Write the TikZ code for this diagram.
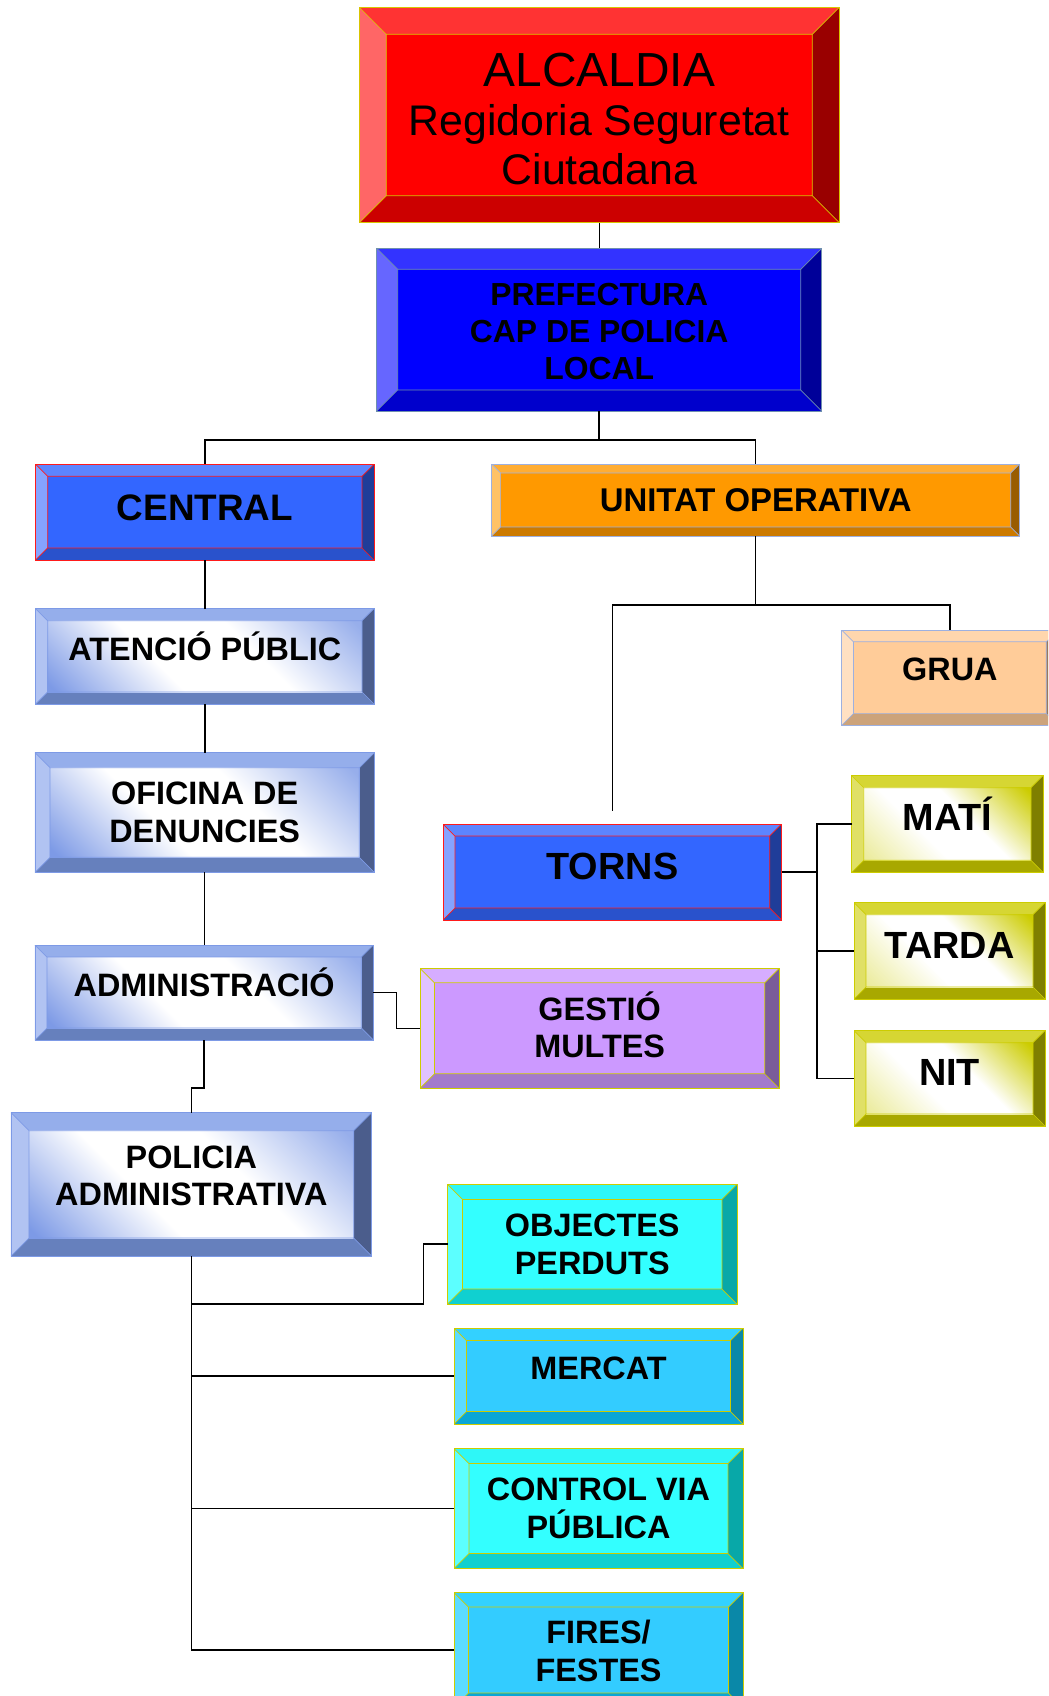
\documentclass[tikz,border=0pt]{standalone}
\usepackage{fontspec}
\setmainfont{Liberation Sans}
\usetikzlibrary{calc}

\definecolor{alcF}{HTML}{FF0000}\definecolor{alcT}{HTML}{FF3333}\definecolor{alcL}{HTML}{FF6666}\definecolor{alcB}{HTML}{CC0000}\definecolor{alcR}{HTML}{990000}\definecolor{alcD}{HTML}{D8C400}
\definecolor{preF}{HTML}{0000FF}\definecolor{preT}{HTML}{3333FF}\definecolor{preL}{HTML}{6666FF}\definecolor{preB}{HTML}{0000CC}\definecolor{preR}{HTML}{000099}\definecolor{preD}{HTML}{6F8FAF}
\definecolor{cenF}{HTML}{3366FF}\definecolor{cenT}{HTML}{5C85FF}\definecolor{cenL}{HTML}{85A3FF}\definecolor{cenB}{HTML}{2952CC}\definecolor{cenR}{HTML}{1F3D99}\definecolor{cenD}{HTML}{FF1A1A}
\definecolor{uniF}{HTML}{FF9900}\definecolor{uniT}{HTML}{FFAD33}\definecolor{uniL}{HTML}{FFC266}\definecolor{uniB}{HTML}{CC7A00}\definecolor{uniR}{HTML}{995C00}\definecolor{uniD}{HTML}{9DB0E0}
\definecolor{gruF}{HTML}{FFCC99}\definecolor{gruT}{HTML}{FFD6AD}\definecolor{gruL}{HTML}{FFE0C2}\definecolor{gruB}{HTML}{CCA37A}\definecolor{gruR}{HTML}{997A5C}\definecolor{gruD}{HTML}{9DB0E0}
\definecolor{lbF}{HTML}{7D9AE6}\definecolor{lbT}{HTML}{95AEEB}\definecolor{lbL}{HTML}{B1C3F2}\definecolor{lbB}{HTML}{6680BD}\definecolor{lbR}{HTML}{4B5D8C}\definecolor{lbD}{HTML}{7D9AE6}
\definecolor{olF}{HTML}{CCCC00}\definecolor{olT}{HTML}{D6D633}\definecolor{olL}{HTML}{E0E066}\definecolor{olB}{HTML}{A8A800}\definecolor{olR}{HTML}{7F7F00}\definecolor{olD}{HTML}{CCCC00}
\definecolor{gesF}{HTML}{CC99FF}\definecolor{gesT}{HTML}{D6ADFF}\definecolor{gesL}{HTML}{E0C2FF}\definecolor{gesB}{HTML}{A37ACC}\definecolor{gesR}{HTML}{7A5C99}\definecolor{gesD}{HTML}{CCCC00}
\definecolor{cyaF}{HTML}{33FFFF}\definecolor{cyaT}{HTML}{2EF7F7}\definecolor{cyaL}{HTML}{5CFFFF}\definecolor{cyaB}{HTML}{10D0D0}\definecolor{cyaR}{HTML}{08A8A8}\definecolor{cyaD}{HTML}{CCCC00}
\definecolor{skyF}{HTML}{33CCFF}\definecolor{skyT}{HTML}{33D1FF}\definecolor{skyL}{HTML}{5CDBFF}\definecolor{skyB}{HTML}{0AA6D6}\definecolor{skyR}{HTML}{0A88A8}\definecolor{skyD}{HTML}{CCCC00}

\pgfdeclarehorizontalshading{lbS}{100bp}{color(0bp)=(lbF); color(16bp)=(lbF); color(40bp)=(white); color(60bp)=(white); color(84bp)=(lbF!80!white); color(100bp)=(lbF!80!white)}
\pgfdeclarehorizontalshading{olS}{100bp}{color(0bp)=(olF!60!white); color(18bp)=(olF!35!white); color(40bp)=(white); color(58bp)=(white); color(84bp)=(olF); color(100bp)=(olF)}

\newcommand{\bevelparts}[2]{%
  \coordinate (pbA) at (path picture bounding box.north west);
  \coordinate (pbB) at (path picture bounding box.north east);
  \coordinate (pbC) at (path picture bounding box.south east);
  \coordinate (pbD) at (path picture bounding box.south west);
  \coordinate (pba) at ([xshift=#1bp,yshift=-#1bp]pbA);
  \coordinate (pbb) at ([xshift=-#1bp,yshift=-#1bp]pbB);
  \coordinate (pbc) at ([xshift=-#1bp,yshift=#1bp]pbC);
  \coordinate (pbd) at ([xshift=#1bp,yshift=#1bp]pbD);
  \fill[#2T] (pbA) -- (pbB) -- (pbb) -- (pba) -- cycle;
  \fill[#2L] (pbA) -- (pba) -- (pbd) -- (pbD) -- cycle;
  \fill[#2B] (pbD) -- (pbd) -- (pbc) -- (pbC) -- cycle;
  \fill[#2R] (pbB) -- (pbC) -- (pbc) -- (pbb) -- cycle;
}
\newcommand{\bevellines}[1]{%
  \draw[#1D, line width=0.7bp] (pba) rectangle (pbc) (pbA) -- (pba) (pbB) -- (pbb) (pbC) -- (pbc) (pbD) -- (pbd);
}

\begin{document}
\begin{tikzpicture}[x=1bp, y=-1bp,
  bev/.style 2 args={rectangle, inner sep=0pt, outer sep=0pt, draw=#2D, line width=0.8bp, fill=#2F,
    path picture={\bevelparts{#1}{#2}\bevellines{#2}}},
  bevg/.style 2 args={rectangle, inner sep=0pt, outer sep=0pt, draw=#2D, line width=0.8bp,
    path picture={\bevelparts{#1}{#2}\shade[shading=#2S, shading angle=45] (pba) rectangle (pbc);\bevellines{#2}}},
  t1/.style={font=\bfseries\fontsize{32.5}{38.5}\selectfont, text height=23.3bp, text depth=0pt, inner sep=0pt},
  t1L/.style={font=\bfseries\fontsize{38}{45}\selectfont, text height=27.2bp, text depth=0pt, inner sep=0pt},
  tm/.style={font=\bfseries\fontsize{32.5}{37.8}\selectfont, align=center, inner sep=0pt},
  conn/.style={draw=black, line width=1.6bp}
]
\useasboundingbox (0,0) rectangle (1048,1696);
\fill[white] (0,0) rectangle (1048,1696);
\clip (0,0) rectangle (1048,1696);

% boxes
\node[bev={27}{alc}, minimum width=480bp, minimum height=215.4bp] (alc) at (599.3,115) {};
\node[bev={21}{pre}, minimum width=445bp, minimum height=162.7bp] (pre) at (599.2,329.65) {};
\node[bev={12}{cen}, minimum width=338.3bp, minimum height=95.7bp] (cen) at (204.85,512.15) {};
\node[bev={9}{uni}, minimum width=528.1bp, minimum height=72bp] (uni) at (755.65,500) {};
\node[bevg={12}{lb}, minimum width=338.3bp, minimum height=95.3bp] (ate) at (204.85,656.35) {};
\node[bevg={15}{lb}, minimum width=339.3bp, minimum height=119.6bp] (ofi) at (204.65,812.5) {};
\node[bevg={12}{lb}, minimum width=338.3bp, minimum height=95bp] (adm) at (204.15,992.5) {};
\node[bevg={18}{lb}, minimum width=360.7bp, minimum height=143.3bp] (pol) at (191.35,1184.35) {};
\node[bev={14.5}{ges}, minimum width=359.3bp, minimum height=120bp] (ges) at (599.65,1028.3) {};
\node[bev={11.7}{gru}, minimum width=216.3bp, minimum height=95.3bp] (gru) at (949.85,677.65) {};
\node[bev={12}{cen}, minimum width=338.7bp, minimum height=96bp] (tor) at (612.35,872) {};
\node[bevg={12}{ol}, minimum width=191.3bp, minimum height=96.6bp] (mat) at (947.35,824) {};
\node[bevg={12}{ol}, minimum width=191bp, minimum height=96.3bp] (tar) at (949.5,950.85) {};
\node[bevg={12}{ol}, minimum width=191bp, minimum height=95.3bp] (nit) at (949.5,1078.35) {};
\node[bev={15}{cya}, minimum width=289.5bp, minimum height=119.6bp] (obj) at (592.25,1244.2) {};
\node[bev={12.5}{sky}, minimum width=289bp, minimum height=96bp] (mer) at (598.5,1376) {};
\node[bev={15}{cya}, minimum width=289bp, minimum height=120bp] (con) at (598.5,1508.5) {};
\node[bev={14.5}{sky}, minimum width=289bp, minimum height=115bp] (fir) at (598.5,1650) {};

% texts
\node[font=\fontsize{43}{49}\selectfont, align=center, inner sep=0pt] (alc-t) at ([yshift=-4bp]alc.center)
  {{\fontsize{48}{49}\selectfont ALCALDIA}\\Regidoria Seguretat\\Ciutadana};
\node[font=\bfseries\fontsize{32}{36.8}\selectfont, align=center, inner sep=0pt] (pre-t) at ([yshift=-2bp]pre.center)
  {PREFECTURA\\CAP DE POLICIA\\LOCAL};
\node[t1L, font=\bfseries\fontsize{37}{44}\selectfont] (cen-t) at ([yshift=5bp]cen.center) {CENTRAL};
\node[t1, font=\bfseries\fontsize{33}{39}\selectfont] (uni-t) at (uni.center) {UNITAT OPERATIVA};
\node[t1] (ate-t) at ([yshift=8bp]ate.center) {ATENCIÓ PÚBLIC};
\node[tm] (ofi-t) at (ofi.center) {OFICINA DE\\DENUNCIES};
\node[t1] (adm-t) at ([yshift=8bp]adm.center) {ADMINISTRACIÓ};
\node[tm] (pol-t) at ([yshift=8.5bp]pol.center) {POLICIA\\ADMINISTRATIVA};
\node[tm] (ges-t) at ([yshift=3.4bp]ges.center) {GESTIÓ\\MULTES};
\node[t1] (gru-t) at ([yshift=8.5bp]gru.center) {GRUA};
\node[t1L] (tor-t) at ([yshift=6bp]tor.center) {TORNS};
\node[t1L] (mat-t) at ([yshift=7bp]mat.center) {MATÍ};
\node[t1L] (tar-t) at ([yshift=6bp]tar.center) {TARDA};
\node[t1L] (nit-t) at ([yshift=6bp]nit.center) {NIT};
\node[tm] (obj-t) at (obj.center) {OBJECTES\\PERDUTS};
\node[t1] (mer-t) at ([yshift=8.5bp]mer.center) {MERCAT};
\node[tm] (con-t) at (con.center) {CONTROL VIA\\PÚBLICA};
\node[tm] (fir-t) at ([yshift=-1bp]fir.center) {FIRES/\\FESTES};

% connectors
\draw[conn] (alc.south) -- (alc.south |- pre.north);
\coordinate (j1) at ($(pre.south)+(0,29)$);
\draw[conn] (pre.south) -- (j1) -| (cen.north);
\draw[conn] (j1) -| (uni.north);
\draw[conn] (cen.south) -- (cen.south |- ate.north);
\draw[conn] (ate.south) -- (ate.south |- ofi.north);
\draw[conn] (ofi.south) -- (ofi.south |- adm.north);
\coordinate (j2) at ($(adm.south)+(0,48)$);
\draw[conn] (adm.south) -- (j2) -| (pol.north);
\coordinate (j3) at ($(adm.east)!0.5!(ges.west)$);
\draw[conn] (adm.east) -| (j3) |- (ges.west);
\coordinate (j4) at ($(uni.south)+(0,69)$);
\coordinate (tend) at ($(tor.north)+(0,-13)$);
\draw[conn] (uni.south) -- (j4) -| (gru.north);
\draw[conn] (j4) -| (tend);
\coordinate (j5) at ($(tor.east)+(35,0)$);
\draw[conn] (tor.east) -- (j5);
\draw[conn] (j5) |- (mat.west);
\draw[conn] (j5) |- (tar.west);
\draw[conn] (j5) |- (nit.west);
\coordinate (j6) at ($(obj.south west)+(-24,0)$);
\draw[conn] (pol.south) |- (j6) |- (obj.west);
\draw[conn] (pol.south) |- (mer.west);
\draw[conn] (pol.south) |- (con.west);
\draw[conn] (pol.south) |- (fir.west);
\end{tikzpicture}
\end{document}
